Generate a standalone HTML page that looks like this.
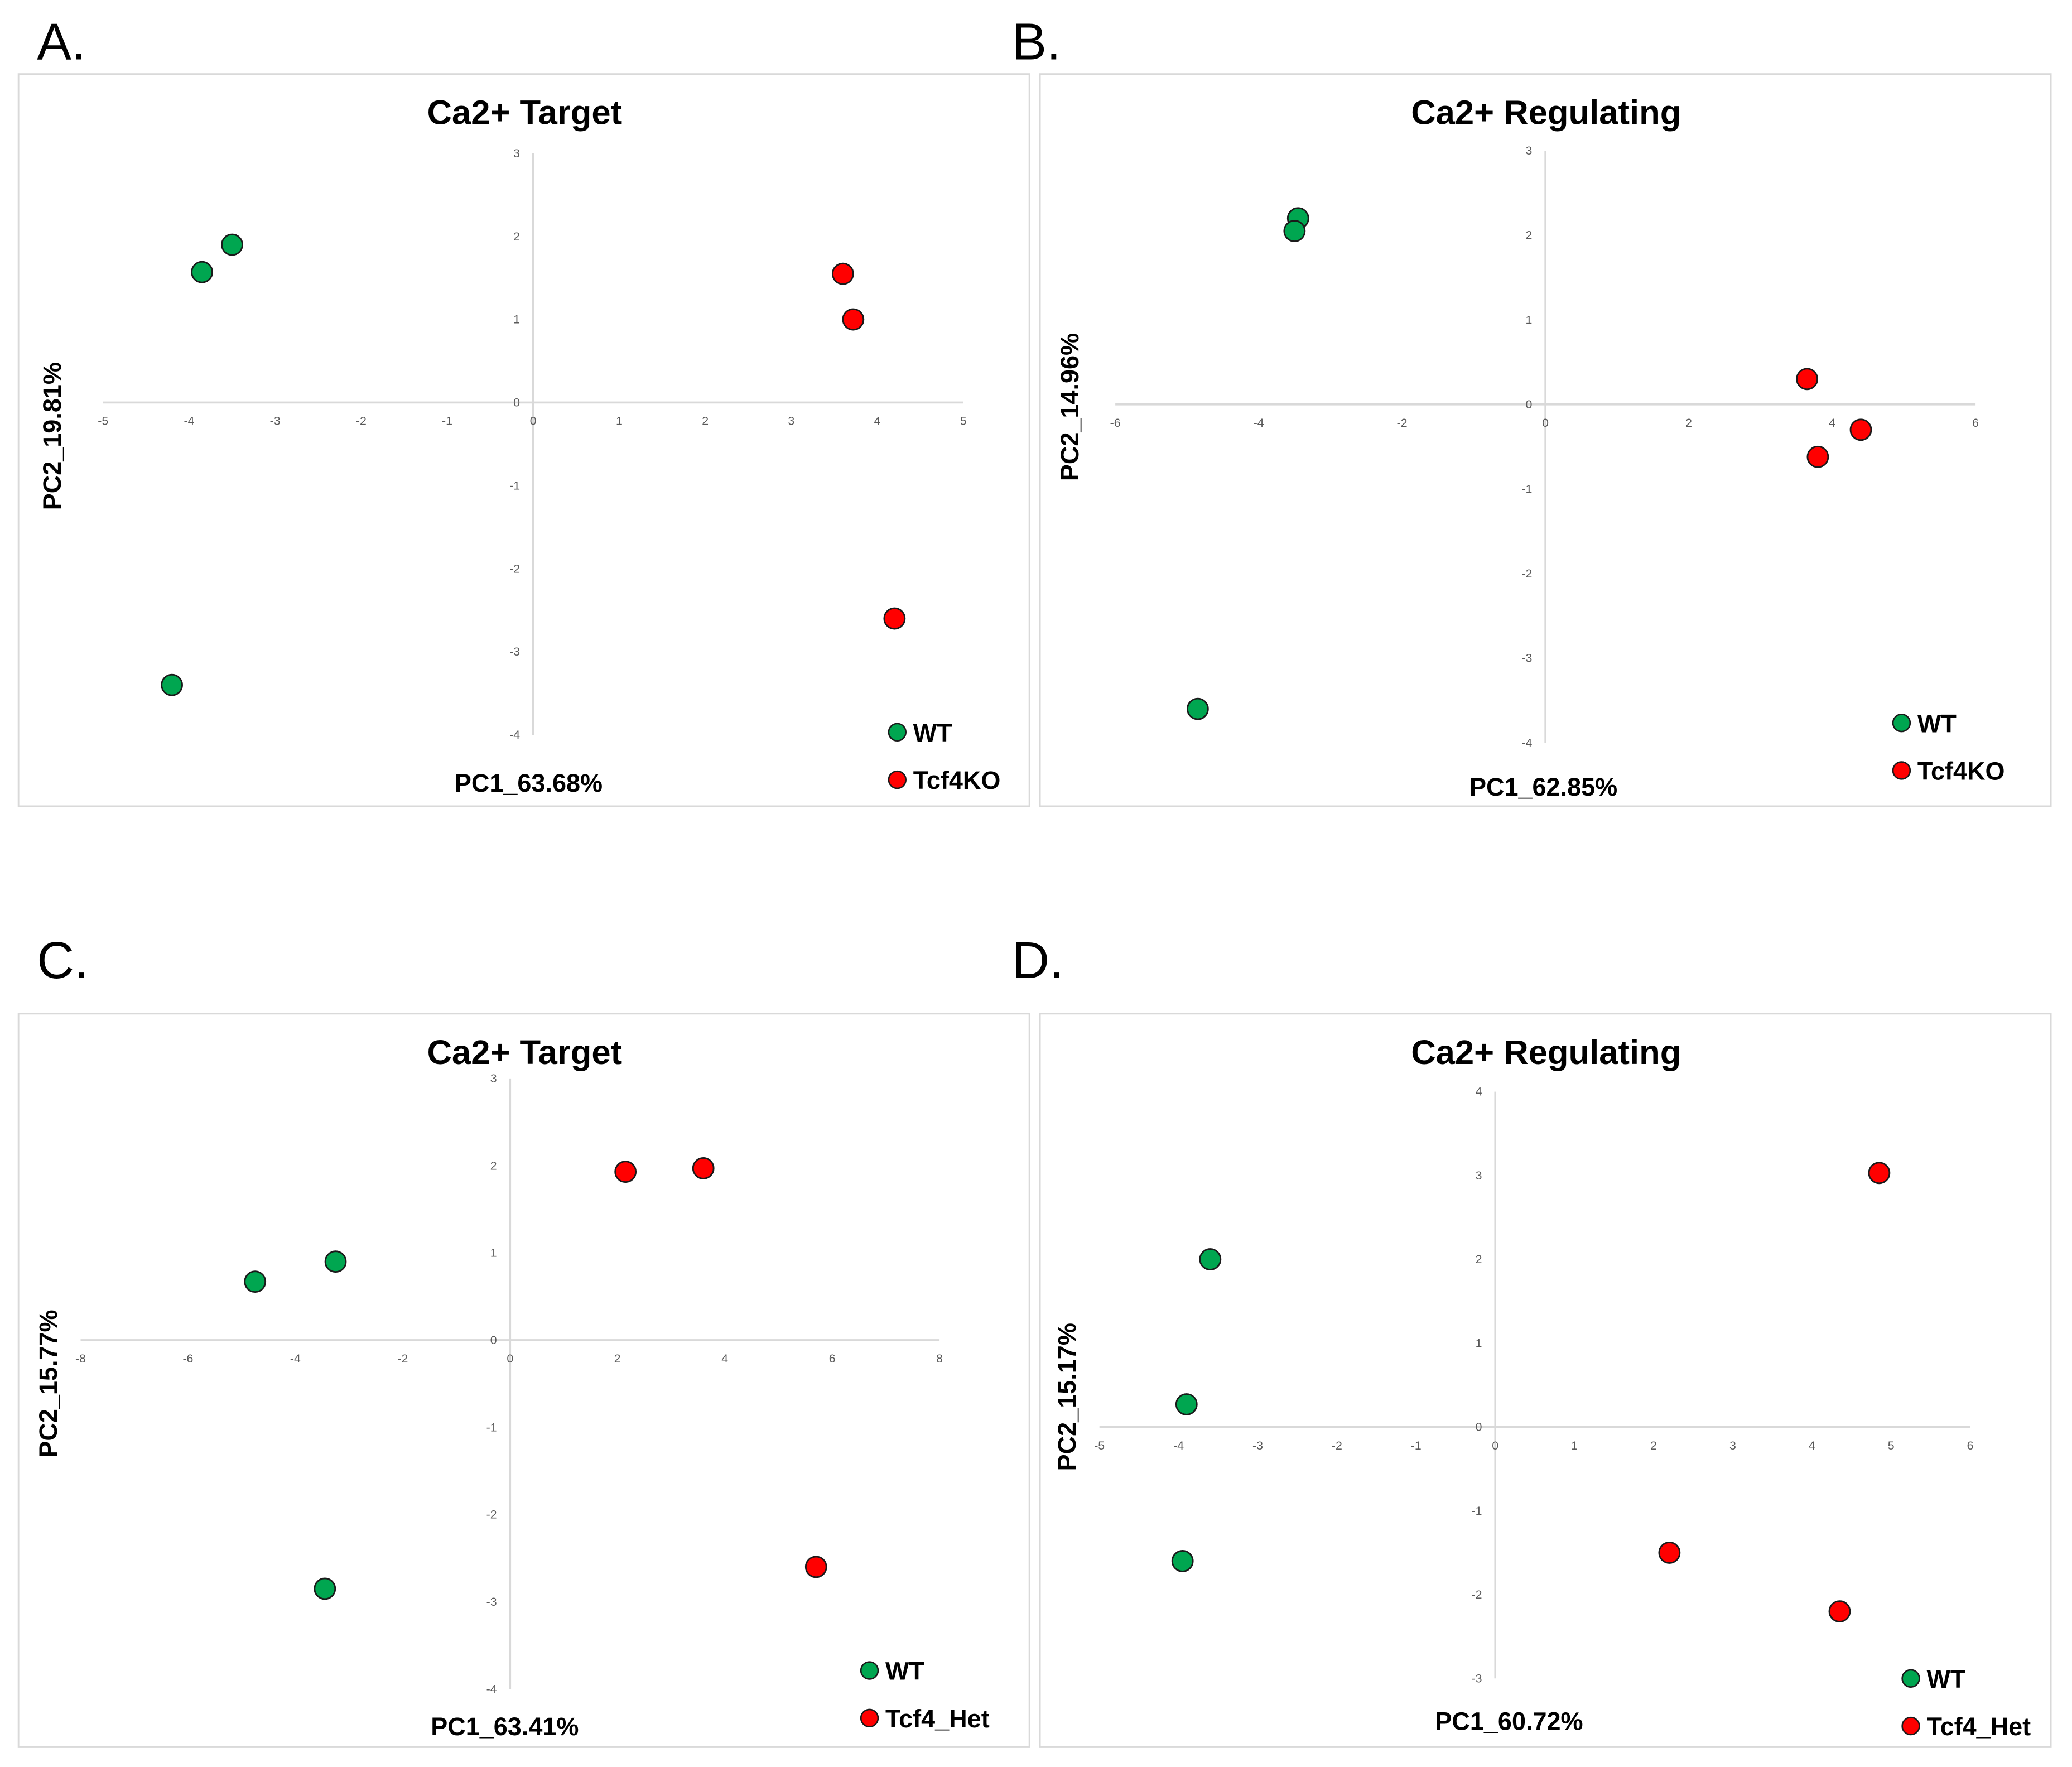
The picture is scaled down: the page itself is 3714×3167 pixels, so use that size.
<!DOCTYPE html>
<html><head><meta charset="utf-8">
<style>
html,body{margin:0;padding:0;background:#fff;}
svg{display:block;}
text{font-family:"Liberation Sans",sans-serif;}
</style></head>
<body>
<svg id="fig" xmlns="http://www.w3.org/2000/svg" width="3714" height="3167" viewBox="0 0 1568 1337" preserveAspectRatio="none"></svg>
<script>
// Panel A data
const aWTx = [-3.5, -3.85, -4.2];
const aWTy = [1.9, 1.57, -3.4];
const aKOx = [3.6, 3.72, 4.2];
const aKOy = [1.55, 1.0, -2.6];
const aXTicks = [-5,-4,-3,-2,-1,0,1,2,3,4,5];
const aYTicks = [3,2,1,0,-1,-2,-3,-4];
// Panel B data
const bWTx = [-3.45, -3.5, -4.85];
const bWTy = [2.2, 2.05, -3.6];
const bKOx = [3.65, 4.4, 3.8];
const bKOy = [0.3, -0.3, -0.62];
const bXTicks = [-6,-4,-2,0,2,4,6];
const bYTicks = [3,2,1,0,-1,-2,-3,-4];
// Panel C data
const cWTx = [-4.75, -3.25, -3.45];
const cWTy = [0.67, 0.9, -2.85];
const cHetx = [2.15, 3.6, 5.7];
const cHety = [1.93, 1.97, -2.6];
const cXTicks = [-8,-6,-4,-2,0,2,4,6,8];
const cYTicks = [3,2,1,0,-1,-2,-3,-4];
// Panel D data
const dWTx = [-3.6, -3.9, -3.95];
const dWTy = [2.0, 0.27, -1.6];
const dHetx = [4.85, 2.2, 4.35];
const dHety = [3.03, -1.5, -2.2];
const dXTicks = [-5,-4,-3,-2,-1,0,1,2,3,4,5,6];
const dYTicks = [4,3,2,1,0,-1,-2,-3];

const NS = "http://www.w3.org/2000/svg";
const svg = document.getElementById('fig');
function mk(tag, attrs, parent, txt){
  const e = document.createElementNS(NS, tag);
  for (const k in attrs) e.setAttribute(k, attrs[k]);
  if (txt !== undefined) e.textContent = txt;
  (parent||svg).appendChild(e);
  return e;
}
const panels = [
 {id:'a', letter:'A.', lx:28, ly:45, box:[14,56,779,610], title:'Ca2+ Target', tx:397, ty:94,
  xmin:-5,xmax:5,x0px:78,x1px:729, ymax:3,ymin:-4,y0px:116,y1px:556,
  xt:aXTicks, yt:aYTicks, g1x:aWTx,g1y:aWTy,g2x:aKOx,g2y:aKOy, g2name:'Tcf4KO',
  xlab:'PC1_63.68%', xlx:400, xly:599, ylab:'PC2_19.81%', ylx:46, yly:330, legx:679, legy:554},
 {id:'b', letter:'B.', lx:766, ly:45, box:[787,56,1552,610], title:'Ca2+ Regulating', tx:1170, ty:94,
  xmin:-6,xmax:6,x0px:844,x1px:1495, ymax:3,ymin:-4,y0px:114,y1px:562,
  xt:bXTicks, yt:bYTicks, g1x:bWTx,g1y:bWTy,g2x:bKOx,g2y:bKOy, g2name:'Tcf4KO',
  xlab:'PC1_62.85%', xlx:1168, xly:602, ylab:'PC2_14.96%', ylx:816, yly:308, legx:1439, legy:547},
 {id:'c', letter:'C.', lx:28, ly:740, box:[14,767,779,1322], title:'Ca2+ Target', tx:397, ty:805,
  xmin:-8,xmax:8,x0px:61,x1px:711, ymax:3,ymin:-4,y0px:816,y1px:1278,
  xt:cXTicks, yt:cYTicks, g1x:cWTx,g1y:cWTy,g2x:cHetx,g2y:cHety, g2name:'Tcf4_Het',
  xlab:'PC1_63.41%', xlx:382, xly:1313, ylab:'PC2_15.77%', ylx:43, yly:1047, legx:658, legy:1264},
 {id:'d', letter:'D.', lx:766, ly:740, box:[787,767,1552,1322], title:'Ca2+ Regulating', tx:1170, ty:805,
  xmin:-5,xmax:6,x0px:832,x1px:1491, ymax:4,ymin:-3,y0px:826,y1px:1270,
  xt:dXTicks, yt:dYTicks, g1x:dWTx,g1y:dWTy,g2x:dHetx,g2y:dHety, g2name:'Tcf4_Het',
  xlab:'PC1_60.72%', xlx:1142, xly:1309, ylab:'PC2_15.17%', ylx:814, yly:1057, legx:1446, legy:1270}
];
panels.forEach(p=>{
  const g = mk('g',{});
  
  
  const X = v => p.x0px + (v-p.xmin)/(p.xmax-p.xmin)*(p.x1px-p.x0px);
  const Y = v => p.y0px + (p.ymax-v)/(p.ymax-p.ymin)*(p.y1px-p.y0px);
  const lt = mk('text',{x:p.lx,y:p.ly,'font-size':39,fill:'#000'},g,p.letter);
  
  
  const b = p.box;
  const r = mk('rect',{x:b[0],y:b[1],width:b[2]-b[0],height:b[3]-b[1],fill:'#fff',stroke:'#d9d9d9','stroke-width':1.2},g);
  
  
  const t = mk('text',{x:p.tx,y:p.ty,'font-size':26,'font-weight':'bold','text-anchor':'middle',fill:'#000'},g,p.title);
  
  
  const xa = mk('line',{x1:X(p.xmin),x2:X(p.xmax),y1:Y(0),y2:Y(0),stroke:'#d9d9d9','stroke-width':1.5},g);
  
  
  const ya = mk('line',{x1:X(0),x2:X(0),y1:Y(p.ymax),y2:Y(p.ymin),stroke:'#d9d9d9','stroke-width':1.5},g);
  
  
  p.xt.forEach(v=>{
    const e = mk('text',{x:X(v),y:Y(0)+17,'font-size':9,'text-anchor':'middle',fill:'#595959'},g,String(v));
    
    
  });
  p.yt.forEach(v=>{
    const e = mk('text',{x:X(0)-10,y:Y(v)+3,'font-size':9,'text-anchor':'end',fill:'#595959'},g,String(v));
    
    
  });
  const xl = mk('text',{x:p.xlx,y:p.xly,'font-size':19,'font-weight':'bold','text-anchor':'middle',fill:'#000'},g,p.xlab);
  
  
  const yl = mk('text',{x:p.ylx,y:p.yly,'font-size':19,'font-weight':'bold','text-anchor':'middle',fill:'#000',transform:`rotate(-90 ${p.ylx} ${p.yly})`},g,p.ylab);
  
  
  p.g1x.forEach((v,i)=>{
    const c = mk('circle',{cx:X(v),cy:Y(p.g1y[i]),r:7.8,fill:'#00a650',stroke:'#1a1a1a','stroke-width':1.2},g);
    
    
  });
  p.g2x.forEach((v,i)=>{
    const c = mk('circle',{cx:X(v),cy:Y(p.g2y[i]),r:7.8,fill:'#ff0000',stroke:'#1a1a1a','stroke-width':1.2},g);
    
    
  });
  const l1 = mk('circle',{cx:p.legx,cy:p.legy,r:6.5,fill:'#00a650',stroke:'#1a1a1a','stroke-width':1.1},g);
  
  
  const lt1 = mk('text',{x:p.legx+12,y:p.legy+7,'font-size':19,'font-weight':'bold',fill:'#000'},g,'WT');
  
  
  const l2 = mk('circle',{cx:p.legx,cy:p.legy+36,r:6.5,fill:'#ff0000',stroke:'#1a1a1a','stroke-width':1.1},g);
  
  
  const lt2 = mk('text',{x:p.legx+12,y:p.legy+43,'font-size':19,'font-weight':'bold',fill:'#000'},g,p.g2name);
  
  
});
</script>
</body></html>
